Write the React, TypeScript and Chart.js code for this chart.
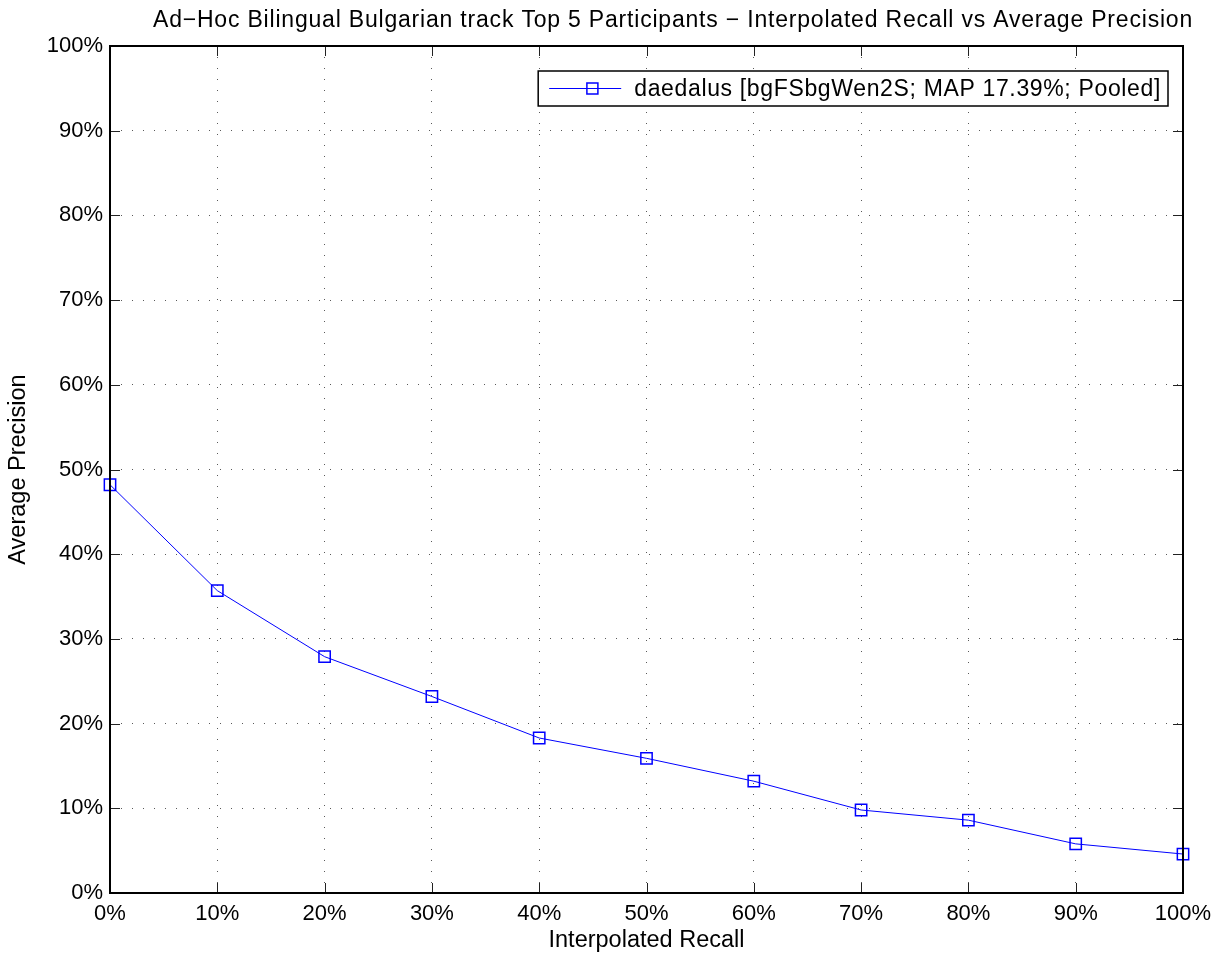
import React, { useEffect, useRef } from "react";
import { Chart, registerables } from "chart.js";

Chart.register(...registerables);

const recallLevels: number[] = [0, 10, 20, 30, 40, 50, 60, 70, 80, 90, 100];
const precisionValues: number[] = [48.2, 35.7, 27.9, 23.2, 18.3, 15.9, 13.2, 9.8, 8.6, 5.8, 4.6];
const seriesLabel = "daedalus [bgFSbgWen2S; MAP 17.39%; Pooled]";
const chartTitle =
  "Ad\u2212Hoc Bilingual Bulgarian track Top 5 Participants \u2212 Interpolated Recall vs Average Precision";
const xAxisTitle = "Interpolated Recall";
const yAxisTitle = "Average Precision";
const tickValues: number[] = [0, 10, 20, 30, 40, 50, 60, 70, 80, 90, 100];

const FONT = '"Liberation Sans", Arial, Helvetica, sans-serif';

const boxPlugin = {
  id: "matlabBox",
  afterDraw(chart: any) {
    const { ctx, chartArea } = chart;
    const { left, right, top, bottom } = chartArea;
    const xs = chart.scales.x;
    const ys = chart.scales.y;
    ctx.save();
    // inside ticks
    ctx.strokeStyle = "#222";
    ctx.lineWidth = 1;
    const tl = 10;
    ctx.beginPath();
    tickValues.forEach((v) => {
      const px = Math.round(xs.getPixelForValue(v)) + 0.5;
      ctx.moveTo(px, bottom);
      ctx.lineTo(px, bottom - tl);
      ctx.moveTo(px, top);
      ctx.lineTo(px, top + tl);
      const py = Math.round(ys.getPixelForValue(v)) + 0.5;
      ctx.moveTo(left, py);
      ctx.lineTo(left + tl, py);
      ctx.moveTo(right, py);
      ctx.lineTo(right - tl, py);
    });
    ctx.stroke();
    // box
    ctx.strokeStyle = "#000";
    ctx.lineWidth = 2;
    ctx.strokeRect(left, top, right - left, bottom - top);

    // title
    ctx.fillStyle = "#000";
    ctx.font = "23px " + FONT;
    (ctx as any).letterSpacing = "0.8px";
    ctx.textBaseline = "middle";
    ctx.textAlign = "left";
    ctx.fillText(chartTitle, 153, 21);

    // legend
    const label = chart.data.datasets[0].label;
    ctx.font = "23px " + FONT;
    (ctx as any).letterSpacing = "0.65px";
    const tw = ctx.measureText(label).width;
    const boxRight = right - 15;
    const boxTop = top + 25;
    const boxH = 35;
    const padL = 11;
    const lineLen = 72;
    const gap = 13;
    const padR = 7;
    const boxW = padL + lineLen + gap + tw + padR;
    const boxLeft = boxRight - boxW;
    ctx.fillStyle = "#fff";
    ctx.fillRect(boxLeft, boxTop, boxW, boxH);
    ctx.strokeStyle = "#000";
    ctx.lineWidth = 1.5;
    ctx.strokeRect(boxLeft, boxTop, boxW, boxH);
    const cy = boxTop + boxH / 2;
    ctx.strokeStyle = "#0000ff";
    ctx.lineWidth = 1;
    ctx.beginPath();
    ctx.moveTo(boxLeft + padL, cy);
    ctx.lineTo(boxLeft + padL + lineLen, cy);
    ctx.stroke();
    const mx = boxLeft + padL + lineLen * 0.6;
    ctx.lineWidth = 1.5;
    ctx.strokeRect(mx - 5.5, cy - 5.5, 11, 11);
    ctx.fillStyle = "#000";
    ctx.textBaseline = "middle";
    ctx.textAlign = "left";
    ctx.fillText(label, boxLeft + padL + lineLen + gap, cy + 1);
    (ctx as any).letterSpacing = "0px";
    ctx.restore();
  },
};

export default function App() {
  const canvasRef = useRef<HTMLCanvasElement | null>(null);

  useEffect(() => {
    document.body.style.margin = "0";
    const canvas = canvasRef.current;
    if (!canvas) return;
    const chart = new Chart(canvas, {
      type: "line",
      data: {
        datasets: [
          {
            label: seriesLabel,
            data: recallLevels.map((r, i) => ({ x: r, y: precisionValues[i] })),
            borderColor: "#0000ff",
            borderWidth: 1,
            pointStyle: "rect",
            pointRadius: 8,
            pointHoverRadius: 8,
            pointBorderWidth: 1.5,
            pointBorderColor: "#0000ff",
            pointBackgroundColor: "rgba(0,0,0,0)",
            tension: 0,
            clip: false as any,
          },
        ],
      },
      options: {
        responsive: false,
        animation: false,
        maintainAspectRatio: false,
        layout: { padding: { top: 46, right: 41, left: 0, bottom: 0 } },
        font: { family: FONT },
        plugins: {
          legend: { display: false },
          tooltip: { enabled: false },
          title: { display: false },
        },
        scales: {
          x: {
            type: "linear",
            min: 0,
            max: 100,
            afterFit(scale: any) {
              scale.height = 65;
            },
            ticks: {
              stepSize: 10,
              color: "#000",
              padding: 8,
              maxRotation: 0,
              font: { family: FONT, size: 22 },
              callback: (v: any) => v + "%",
            },
            grid: {
              drawTicks: false,
              color: "rgba(0,0,0,0.65)",
              lineWidth: 1,
            },
            border: { display: false, dash: [1, 10] },
            title: {
              display: true,
              text: xAxisTitle,
              color: "#000",
              font: { family: FONT, size: 23.5 },
              padding: { top: 3, bottom: 3 },
            },
          },
          y: {
            type: "linear",
            min: 0,
            max: 100,
            afterFit(scale: any) {
              scale.width = 110;
            },
            ticks: {
              stepSize: 10,
              color: "#000",
              padding: 7,
              font: { family: FONT, size: 22 },
              callback: (v: any) => v + "%",
            },
            grid: {
              drawTicks: false,
              color: "rgba(0,0,0,0.65)",
              lineWidth: 1,
            },
            border: { display: false, dash: [1, 10] },
            title: {
              display: true,
              text: yAxisTitle,
              color: "#000",
              font: { family: FONT, size: 23.5 },
              padding: { top: 4, bottom: 4 },
            },
          },
        },
      },
      plugins: [boxPlugin],
    });
    return () => chart.destroy();
  }, []);

  return (
    <div style={{ position: "absolute", left: 0, top: 0, width: 1224, height: 958, background: "#fff" }}>
      <canvas ref={canvasRef} width={1224} height={958} style={{ width: 1224, height: 958, display: "block" }} />
    </div>
  );
}
